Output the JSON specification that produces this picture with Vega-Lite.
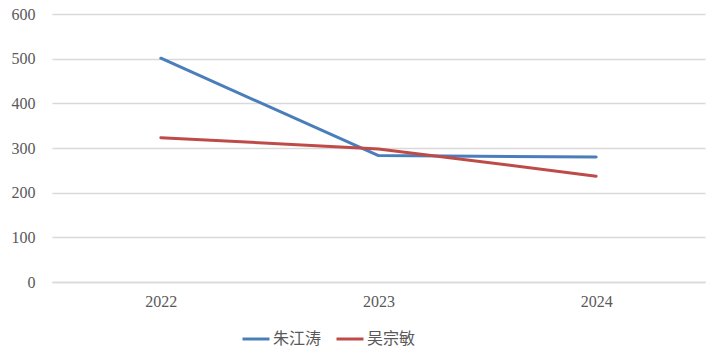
{
  "$schema": "https://vega.github.io/schema/vega-lite/v6.json",
  "width": 653,
  "height": 268,
  "autosize": {"type": "none"},
  "padding": {"left": 52, "top": 14, "right": 15, "bottom": 76},
  "background": "white",
  "config": {"view": {"stroke": null}},
  "data": {
    "values": [
      {"year": "2022", "name": "朱江涛", "value": 501},
      {"year": "2023", "name": "朱江涛", "value": 283},
      {"year": "2024", "name": "朱江涛", "value": 280},
      {"year": "2022", "name": "吴宗敏", "value": 323},
      {"year": "2023", "name": "吴宗敏", "value": 298},
      {"year": "2024", "name": "吴宗敏", "value": 237}
    ]
  },
  "mark": {"type": "line", "strokeWidth": 3, "strokeCap": "round", "strokeJoin": "round"},
  "encoding": {
    "x": {
      "field": "year", "type": "ordinal",
      "scale": {"type": "point", "padding": 0.5},
      "axis": {
        "title": null, "labelAngle": 0, "ticks": false,
        "domainColor": "#d9d9d9", "domainWidth": 1.5,
        "labelFont": "Liberation Serif", "labelFontSize": 16, "labelColor": "#595959",
        "labelPadding": 11
      }
    },
    "y": {
      "field": "value", "type": "quantitative",
      "scale": {"domain": [0, 600], "nice": false},
      "axis": {
        "title": null, "values": [0, 100, 200, 300, 400, 500, 600],
        "domain": false, "ticks": false,
        "gridColor": "#d9d9d9", "gridWidth": 1.5,
        "labelFont": "Liberation Serif", "labelFontSize": 16, "labelColor": "#595959",
        "labelPadding": 17
      }
    },
    "color": {
      "field": "name", "type": "nominal",
      "scale": {"domain": ["朱江涛", "吴宗敏"], "range": ["#4a7ebb", "#be4b48"]},
      "sort": ["朱江涛", "吴宗敏"],
      "legend": {
        "title": null, "orient": "none", "direction": "horizontal",
        "legendX": 189, "legendY": 310,
        "symbolType": "stroke", "symbolSize": 729, "symbolStrokeWidth": 3,
        "labelFont": "Noto Sans CJK SC", "labelFontSize": 16, "labelColor": "#595959",
        "labelOffset": 2, "columnPadding": 8
      }
    }
  }
}
